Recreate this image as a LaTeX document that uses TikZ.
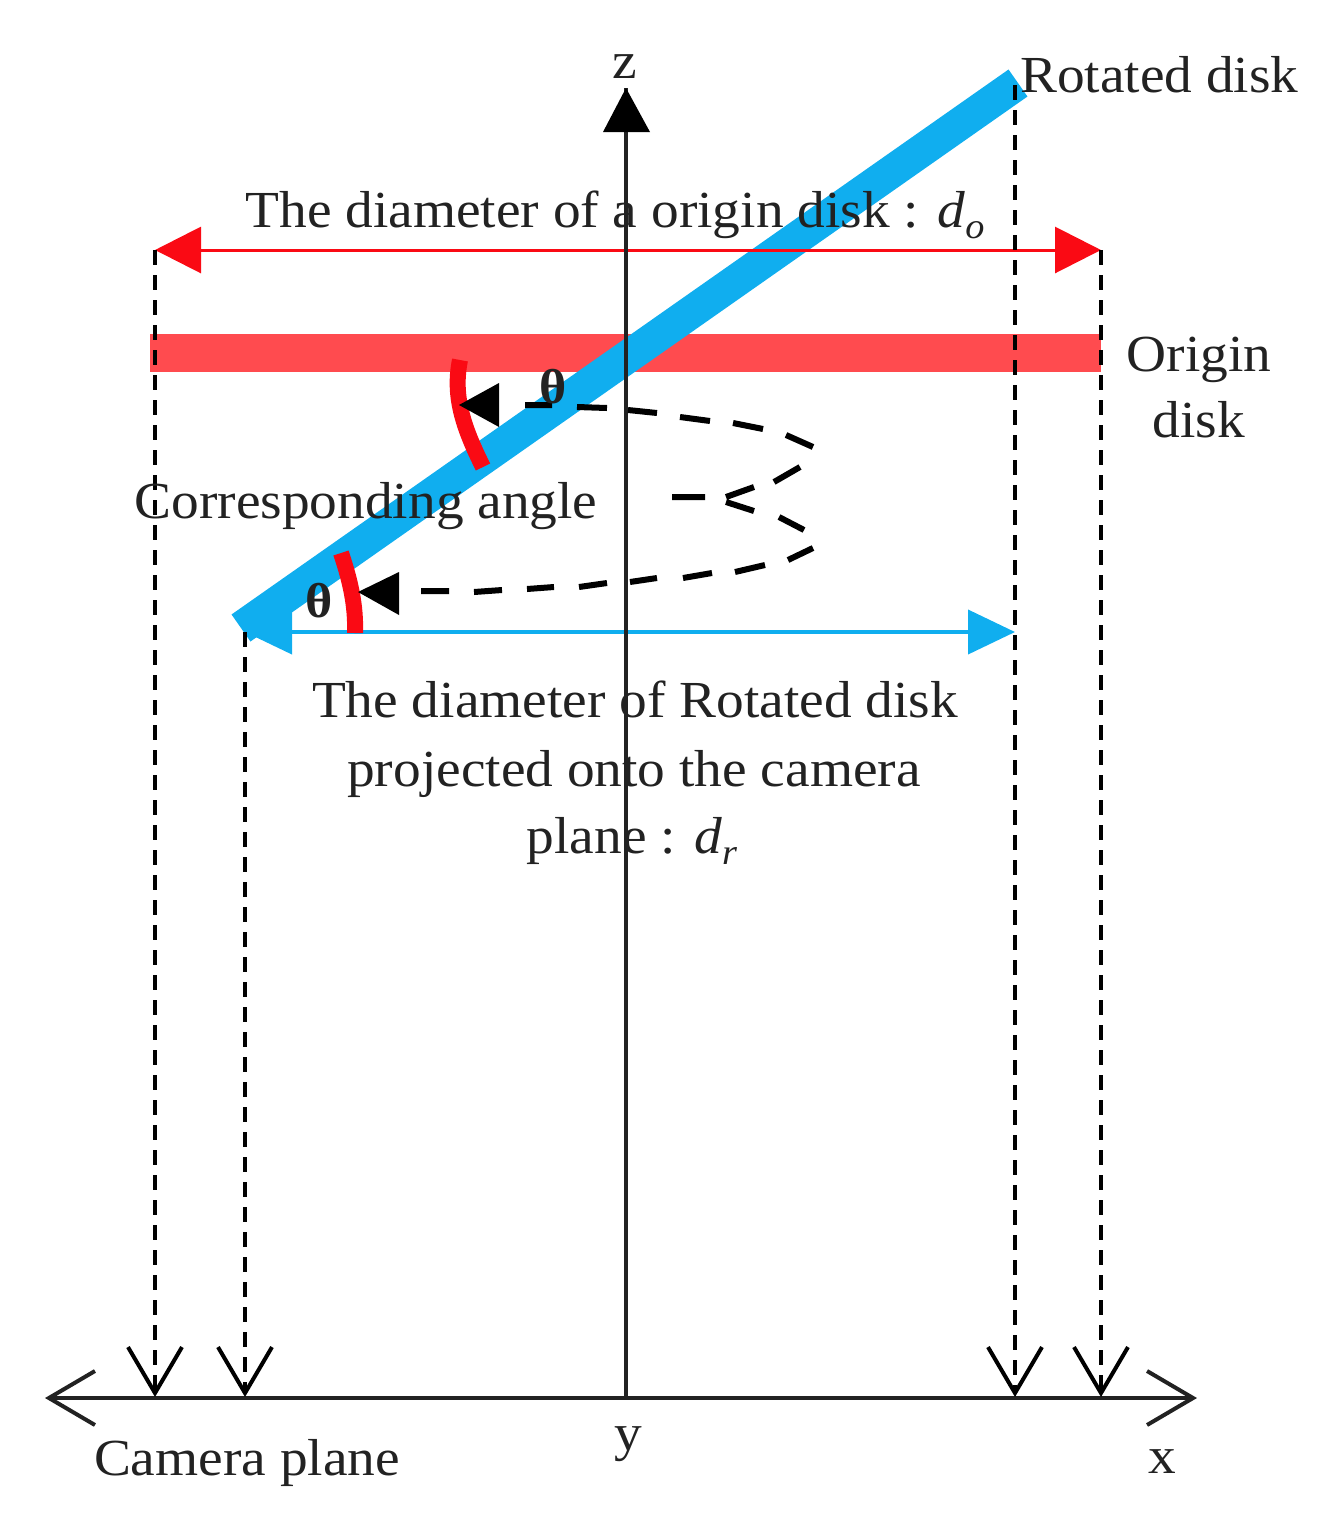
\documentclass[tikz,border=0pt]{standalone}
\usepackage{fontspec}
\setmainfont[FakeStretch=1.065]{Liberation Serif}
\usetikzlibrary{arrows.meta}
\definecolor{diskblue}{HTML}{10AEEF}
\definecolor{diskred}{HTML}{FF4B4F}
\definecolor{arcred}{HTML}{FA0A14}
\definecolor{inkgray}{HTML}{222222}
\newcommand{\subscr}[1]{\raisebox{-0.22em}{\fontsize{36}{36}\selectfont\textit{#1}}}
\tikzset{
  lbl/.style={anchor=base,inner sep=0pt,text=inkgray,font=\fontsize{52}{52}\selectfont},
  axisline/.style={draw=inkgray,line width=3.6pt},
  barb/.style={-{Straight Barb[length=46pt,width=54pt,line width=4pt]}},
  projline/.style={draw=black,line width=3.4pt,dash pattern=on 15pt off 10pt},
  flowdash/.style={draw=black,line width=6pt},
  anglearc/.style={draw=arcred,line width=16pt},
  solidhead/.style={fill=black,draw=none},
  thetalbl/.style={anchor=base,inner sep=0pt,text=inkgray,font=\fontsize{49}{49}\selectfont\bfseries}
}
\begin{document}
\begin{tikzpicture}[x=1pt,y=-1pt]
\useasboundingbox (0,0) rectangle (1329,1524);
% named points
\coordinate (zbase) at (626,1397);
\coordinate (ztip) at (626,88);
\coordinate (xleft) at (45,1398);
\coordinate (xright) at (1197,1398);
\coordinate (p1top) at (155,250);
\coordinate (p1bot) at (155,1397);
\coordinate (p2top) at (245,632);
\coordinate (p2bot) at (245,1397);
\coordinate (p3top) at (1015,85);
\coordinate (p3bot) at (1015,1397);
\coordinate (p4top) at (1101,250);
\coordinate (p4bot) at (1101,1397);
\coordinate (redL) at (150,353);
\coordinate (redR) at (1101,353);
\coordinate (blueA) at (241,628);
\coordinate (blueB) at (1018,83);
% disks
\draw[diskred,line width=38pt] (redL) -- (redR);
\draw[diskblue,line width=33pt] (blueA) -- (blueB);
% red dimension
\draw[draw=arcred,line width=3pt,{Triangle[length=46pt,width=46pt]}-{Triangle[length=46pt,width=46pt]}] (p1top) -- (p4top);
% blue dimension
\draw[draw=diskblue,fill=diskblue,line width=4pt,{Triangle[length=47pt,width=44pt]}-{Triangle[length=47pt,width=44pt]}] (p2top) -- (1015,632);
% axes
\draw[axisline] (zbase) -- (ztip);
\fill[black] (603,132) -- (ztip) -- (650,132) -- cycle;
\draw[axisline,{Straight Barb[length=46pt,width=54pt,line width=4pt]}-{Straight Barb[length=46pt,width=54pt,line width=4pt]}] (xleft) -- (xright);
% projections
\draw[projline,barb] (p1top) -- (p1bot);
\draw[projline,barb] (p2top) -- (p2bot);
\draw[projline,barb] (p3top) -- (p3bot);
\draw[projline,barb] (p4top) -- (p4bot);
% angle arcs
\draw[anglearc] (460,360) .. controls (453,395) and (462,425) .. (483,467);
\draw[anglearc] (341,553) .. controls (350,580) and (356,605) .. (355,633);
% dashed flow
\draw[flowdash] (525,405) -- (552,405)
  (577,407) -- (607,408)
  (628,410) -- (657,413)
  (680,417) -- (710,421)
  (733,423) -- (763,429)
  (786,435) -- (813,447)
  (800,467) -- (774,482)
  (754,487) -- (726,497)
  (726,502) -- (754,511)
  (672,497) -- (705,497)
  (779,517) -- (804,530)
  (813,548) -- (788,560)
  (765,565) -- (735,572)
  (712,573) -- (683,578)
  (657,578) -- (630,582)
  (607,583) -- (579,587)
  (554,587) -- (527,589)
  (502,590) -- (474,592)
  (449,591) -- (421,591);
\fill[solidhead] (459,405) -- (499,383) -- (499,427) -- cycle;
\fill[solidhead] (358,592) -- (399,572) -- (399,615) -- cycle;
% labels
\node[lbl] (zlab) at (625,78) {z};
\node[lbl,anchor=base west] (rotlab) at (1020,92) {Rotated disk};
\node[lbl] (dolab) at (615,227) {The diameter of a origin disk : \textit{d}\subscr{o}};
\node[lbl] (or1) at (1199,371) {Origin};
\node[lbl] (or2) at (1199,437) {disk};
\node[lbl] (corr) at (366,518) {Corresponding angle};
\node[lbl] (dr1) at (635,717) {The diameter of Rotated disk};
\node[lbl] (dr2) at (634,786) {projected onto the camera};
\node[lbl] (dr3) at (632,853) {plane : \textit{d}\subscr{r}};
\node[lbl] (ylab) at (628,1450) {y};
\node[lbl] (xlab) at (1162,1473) {x};
\node[lbl] (cam) at (247,1475) {Camera plane};
\node[thetalbl] (th1) at (553,403) {θ};
\node[thetalbl] (th2) at (319,617) {θ};
\end{tikzpicture}
\end{document}
